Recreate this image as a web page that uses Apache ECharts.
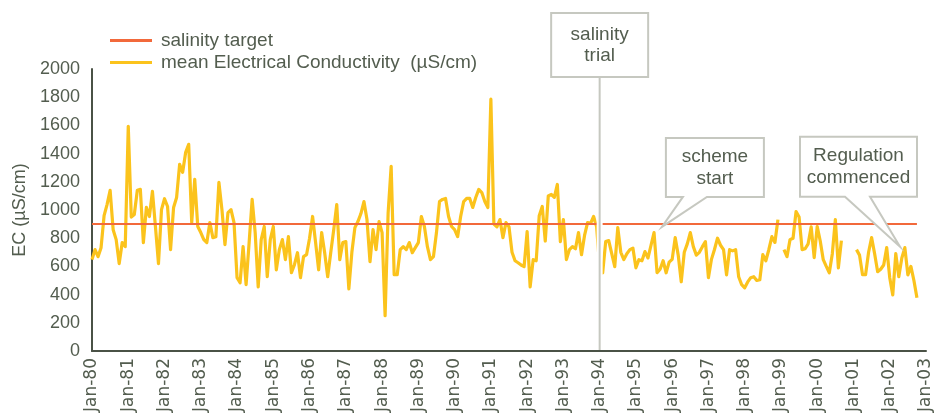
<!DOCTYPE html>
<html><head><meta charset="utf-8">
<script src="https://cdn.jsdelivr.net/npm/echarts@6/dist/echarts.min.js"></script>
<style>html,body{margin:0;padding:0;background:#fff}#c{width:943px;height:419px}</style>
</head><body><div id="c"></div>
<script>
// x tick labels (one per January; month index = 12 * position)
const xTickLabels = ['Jan-80','Jan-81','Jan-82','Jan-83','Jan-84','Jan-85','Jan-86','Jan-87','Jan-88','Jan-89','Jan-90','Jan-91','Jan-92','Jan-93','Jan-94','Jan-95','Jan-96','Jan-97','Jan-98','Jan-99','Jan-00','Jan-01','Jan-02','Jan-03'];
const yMin = 0, yMax = 2000, yStep = 200;
const targetValue = 900;
const seriesNames = ['salinity target', 'mean Electrical Conductivity  (\u00b5S/cm)'];

// monthly mean EC (uS/cm), Jan..Dec of each year; null = no data
const ec1980 = [648, 719, 669, 733, 960, 1040, 1140, 860, 790, 620, 769, 740];
const ec1981 = [1594, 950, 968, 1140, 1146, 769, 1018, 954, 1132, 880, 620, 1003];
const ec1982 = [1080, 1025, 719, 1018, 1089, 1324, 1267, 1409, 1466, 911, 1217, 883];
const ec1983 = [840, 790, 769, 911, 804, 811, 1196, 1003, 754, 982, 1003, 911];
const ec1984 = [520, 484, 740, 470, 769, 1075, 840, 455, 790, 883, 527, 790];
const ec1985 = [883, 576, 719, 790, 648, 811, 555, 612, 697, 520, 669, 683];
const ec1986 = [800, 954, 769, 576, 840, 697, 527, 697, 861, 1039, 648, 769];
const ec1987 = [776, 440, 700, 875, 918, 975, 1060, 932, 633, 861, 719, 918];
const ec1988 = [840, 250, 980, 1310, 541, 541, 719, 740, 719, 769, 697, 733];
const ec1989 = [769, 954, 883, 740, 648, 669, 840, 1060, 1075, 1082, 954, 883];
const ec1990 = [861, 811, 954, 1060, 1082, 1082, 1018, 1089, 1146, 1124, 1060, 1018];
const ec1991 = [1786, 900, 880, 932, 804, 911, 880, 700, 640, 626, 610, 598];
const ec1992 = [847, 455, 648, 640, 960, 1025, 780, 1100, 1110, 1090, 1181, 776];
const ec1993 = [932, 648, 719, 740, 725, 840, 683, 820, 911, 905, 954, 880];
const ec1994 = [598, 555, 776, 783, 690, 598, 875, 700, 648, 690, 719, 730];
const ec1995 = [590, 648, 640, 705, 660, 750, 840, 555, 580, 640, 555, 630];
const ec1996 = [650, 804, 680, 491, 700, 760, 840, 740, 680, 700, 740, 776];
const ec1997 = [520, 650, 720, 800, 750, 719, 540, 719, 710, 719, 527, 470];
const ec1998 = [448, 490, 520, 527, 500, 505, 683, 640, 720, 811, 770, 932];
const ec1999 = [null, 719, 669, 790, 800, 989, 950, 719, 725, 760, 880, 662];
const ec2000 = [883, 780, 648, 600, 555, 690, 932, 590, 783, null, null, null];
const ec2001 = [null, 719, 680, 541, 541, 700, 804, 690, 562, 580, 610, 733];
const ec2002 = [520, 398, 690, 527, 660, 733, 540, 600, 500, 377];

const ecValues = [].concat(ec1980, ec1981, ec1982, ec1983, ec1984, ec1985, ec1986, ec1987,
  ec1988, ec1989, ec1990, ec1991, ec1992, ec1993, ec1994, ec1995, ec1996, ec1997, ec1998,
  ec1999, ec2000, ec2001, ec2002);

// annotations (data coordinates: month index, value)
const trialMonth = 168; // Jan-94
const trialText = 'salinity\ntrial';
const calloutTexts = ['scheme\nstart', 'Regulation\ncommenced'];
const calloutTips = [[188.6, 880], [267.4, 740]];

const FONT = '"Liberation Sans", Arial, sans-serif';
const TXT = '#535d4f';
const GREY = '#c6c8c0';
const AXIS = '#4a5246';

const chart = echarts.init(document.getElementById('c'), null, {renderer: 'canvas'});
const lastMonth = ecValues.length - 1;

chart.setOption({
  animation: false,
  backgroundColor: '#ffffff',
  grid: {left: 92, right: 17, top: 69, bottom: 68, containLabel: false},
  legend: {
    orient: 'vertical', left: 105, top: 26, itemGap: 3,
    itemWidth: 42, itemHeight: 3,
    data: [{name: seriesNames[0], icon: 'rect'}, {name: seriesNames[1], icon: 'rect'}],
    textStyle: {fontFamily: FONT, fontSize: 19, color: TXT, padding: [0, 0, 0, 4]}
  },
  xAxis: {
    type: 'value', min: 0, max: (xTickLabels.length - 1) * 12, interval: 12,
    axisLine: {show: true, lineStyle: {color: AXIS, width: 2}},
    axisTick: {show: false}, splitLine: {show: false},
    axisLabel: {
      rotate: 90, margin: 7, color: TXT, fontFamily: '"DejaVu Sans", sans-serif', fontSize: 17,
      showMinLabel: true, showMaxLabel: true,
      formatter: v => xTickLabels[Math.round(v / 12)] || ''
    }
  },
  yAxis: {
    type: 'value', min: yMin, max: yMax, interval: yStep,
    name: 'EC (\u00b5S/cm)', nameLocation: 'middle', nameRotate: 90, nameGap: 44,
    nameTextStyle: {fontFamily: FONT, fontSize: 18, color: TXT},
    axisLine: {show: true, lineStyle: {color: AXIS, width: 2}},
    axisTick: {show: false}, splitLine: {show: false},
    axisLabel: {margin: 12, color: TXT, fontFamily: FONT, fontSize: 18, formatter: v => String(v)}
  },
  series: [
    {
      name: seriesNames[1], type: 'line', showSymbol: false, symbol: 'none',
      connectNulls: false, z: 2,
      lineStyle: {color: '#fbc31c', width: 3.2, join: 'round'},
      itemStyle: {color: '#fbc31c'},
      data: ecValues.map((v, i) => [i, v == null ? '-' : v])
    },
    {
      name: seriesNames[0], type: 'line', showSymbol: false, symbol: 'none', z: 3,
      lineStyle: {color: '#f2693b', width: 2},
      itemStyle: {color: '#f2693b'},
      data: [[0, targetValue], [lastMonth, targetValue]]
    }
  ]
});

function drawAnnotations() {
  const px = p => chart.convertToPixel({gridIndex: 0}, p);
  const g = [];
  // salinity trial line + box
  const top = px([trialMonth, yMax]);
  const bot = px([trialMonth, yMin]);
  const boxT = top[1] - 56, boxB = top[1] + 8;
  g.push({type: 'line', z: 100, shape: {x1: top[0], y1: boxB, x2: bot[0], y2: bot[1] - 1},
          style: {stroke: '#ffffff', lineWidth: 6}});
  g.push({type: 'line', z: 101, shape: {x1: top[0], y1: boxB, x2: bot[0], y2: bot[1] - 1},
          style: {stroke: GREY, lineWidth: 2}});
  g.push({type: 'rect', z: 101, shape: {x: top[0] - 48.5, y: boxT, width: 97, height: boxB - boxT},
          style: {fill: '#ffffff', stroke: GREY, lineWidth: 2}});
  g.push({type: 'text', z: 102, style: {text: trialText, x: top[0], y: (boxT + boxB) / 2,
          align: 'center', verticalAlign: 'middle', font: '19px ' + FONT, fill: TXT, lineHeight: 21}});
  // speech-bubble callouts
  const boxes = [
    {l: 4, r: 102, t: -89, b: -30, b1: 21, b2: 45},
    {l: -100, r: 17, t: -110, b: -50, b1: -55, b2: -30}
  ];
  calloutTexts.forEach((txt, i) => {
    const tip = px(calloutTips[i]);
    const bx = boxes[i];
    const X = d => tip[0] + d, Y = d => tip[1] + d;
    const pts = [
      [X(bx.l), Y(bx.t)], [X(bx.r), Y(bx.t)], [X(bx.r), Y(bx.b)],
      [X(bx.b2), Y(bx.b)], [tip[0], tip[1]], [X(bx.b1), Y(bx.b)], [X(bx.l), Y(bx.b)]
    ];
    g.push({type: 'polygon', z: 101, shape: {points: pts},
            style: {fill: '#ffffff', stroke: GREY, lineWidth: 2, lineJoin: 'miter'}});
    g.push({type: 'text', z: 102, style: {text: txt, x: X((bx.l + bx.r) / 2), y: Y((bx.t + bx.b) / 2),
            align: 'center', verticalAlign: 'middle', font: '19px ' + FONT, fill: TXT, lineHeight: 22}});
  });
  chart.setOption({graphic: g});
}
drawAnnotations();
</script>
</body></html>
